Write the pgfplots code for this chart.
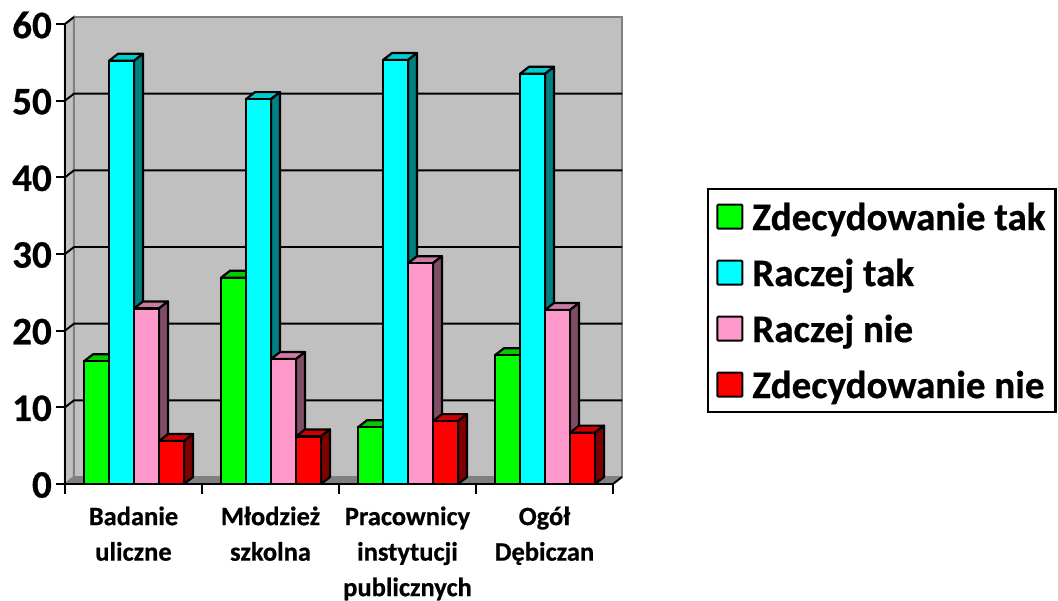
\documentclass[border=0pt]{standalone}
\usepackage{pgfplots}
\pgfplotsset{compat=1.18}
\usepackage{fontspec}
\setmainfont{Carlito}[BoldFeatures={FakeBold=0.6}]

\definecolor{gA}{HTML}{00FF00}\definecolor{gAt}{HTML}{00CC00}\definecolor{gAs}{HTML}{008000}
\definecolor{cA}{HTML}{00FFFF}\definecolor{cAt}{HTML}{00CCCC}\definecolor{cAs}{HTML}{008080}
\definecolor{pA}{HTML}{FF99CC}\definecolor{pAt}{HTML}{CC7AA3}\definecolor{pAs}{HTML}{804D66}
\definecolor{rA}{HTML}{FF0000}\definecolor{rAt}{HTML}{CC0000}\definecolor{rAs}{HTML}{800000}
\definecolor{wall}{HTML}{C0C0C0}\definecolor{edge}{HTML}{808080}

% depth of the fake 3D look, in axis units (9px and 7px)
\def\dx{0.0657}
\def\dy{0.913}
\def\barw{0.1825}

% top and side face of one bar: centre, value, top colour, side colour
\newcommand{\faces}[4]{%
  \pgfmathsetmacro\xa{#1-\barw/2}\pgfmathsetmacro\xb{#1+\barw/2}%
  \pgfmathsetmacro\xc{\xb+\dx}\pgfmathsetmacro\xd{\xa+\dx}%
  \pgfmathsetmacro\yt{#2+\dy}%
  \edef\tmp{\noexpand\addplot[forget plot, fill=#3, draw=black, line width=2.2pt, line join=round]
    coordinates {(\xa,#2) (\xb,#2) (\xc,\yt) (\xd,\yt)} --cycle;
    \noexpand\addplot[forget plot, fill=#4, draw=black, line width=2.2pt, line join=round]
    coordinates {(\xb,0) (\xc,\dy) (\xc,\yt) (\xb,#2)} --cycle;}\tmp}

% shift in pt, colours, then the four values
\newcommand{\series}[8]{%
  \pgfmathsetmacro\sh{#1*\barw/25}%
  \pgfmathsetmacro\ca{0.5+\sh}\pgfmathsetmacro\cb{1.5+\sh}\pgfmathsetmacro\cc{2.5+\sh}\pgfmathsetmacro\cd{3.5+\sh}%
  \faces{\ca}{#5}{#3}{#4}\faces{\cb}{#6}{#3}{#4}\faces{\cc}{#7}{#3}{#4}\faces{\cd}{#8}{#3}{#4}%
  \addplot[ybar, bar width=25pt, bar shift=#1pt, fill=#2, draw=black, line width=2.2pt]
    coordinates {(0.5,#5) (1.5,#6) (2.5,#7) (3.5,#8)};}

\newcommand{\gridl}[1]{%
  \pgfmathsetmacro\yy{#1+\dy}\pgfmathsetmacro\xe{4+\dx}%
  \edef\tmp{\noexpand\addplot[forget plot, black, line width=1.9pt]
    coordinates {(0,#1) (\dx,\yy) (\xe,\yy)};}\tmp}

\begin{document}
\begin{tikzpicture}[x=1pt,y=1pt]
\path[use as bounding box] (-65,-117) rectangle (993,484);
\begin{axis}[
  at={(0,0)}, anchor=origin,
  scale only axis, width=548pt, height=460pt,
  xmin=0, xmax=4, ymin=0, ymax=60,
  clip=false, axis on top,
  axis x line*=bottom, axis y line*=left,
  axis line style={-, line width=2.2pt},
  xtick={0.5,1.5,2.5,3.5},
  xticklabels={{Badanie\\uliczne},{Młodzież\\szkolna},{Pracownicy\\instytucji\\publicznych},{Ogół\\Dębiczan}},
  minor xtick={0,1,2,3,4},
  ytick={0,10,...,60},
  tick align=outside,
  major tick length=9pt,
  major x tick style={draw=none},
  minor x tick style={draw=black, line width=1.9pt},
  minor tick length=10pt,
  y tick style={black, line width=1.9pt},
  tick pos=left,
  /pgf/number format/assume math mode=true,
  yticklabel style={font=\fontsize{39}{39}\selectfont\bfseries, inner sep=0pt, xshift=-4pt, yshift=-1pt},
  xticklabel style={font=\fontsize{26.5}{35.5}\selectfont\bfseries, align=center, yshift=-10pt},
  legend cell align=left,
  legend style={at={(axis description cs:1.172,0.6435)}, anchor=north west,
    draw=black, line width=2.2pt, fill=white,
    font=\fontsize{39}{39}\selectfont\bfseries, inner xsep=8pt, inner ysep=4pt, row sep=9pt,
    nodes={inner sep=2pt, text depth=8pt, text height=35pt}},
  legend image code/.code={\draw[#1, line width=2pt, rounded corners=1pt] (0pt,-12pt) rectangle (25pt,12pt); \path[draw=none, fill=none] (0pt,0pt) (33pt,0pt);},
]
\addplot[forget plot, fill=wall, draw=edge, line width=2pt] coordinates {(\dx,\dy) (4.0657,\dy) (4.0657,60.913) (\dx,60.913)} --cycle;
\addplot[forget plot, fill=wall, draw=edge, line width=2pt] coordinates {(0,0) (\dx,\dy) (\dx,60.913) (0,60)} --cycle;
\addplot[forget plot, fill=edge, draw=edge, line width=0.5pt] coordinates {(0,0) (4,0) (4.0657,\dy) (\dx,\dy)} --cycle;
\gridl{10}\gridl{20}\gridl{30}\gridl{40}\gridl{50}
\addplot[forget plot, black, line width=1.9pt] coordinates {(0,60) (\dx,60.913)};
\addplot[forget plot, black, line width=1.9pt] coordinates {(4,0) (4.0657,\dy)};

\series{-37}{gA}{gAt}{gAs}{16}{26.9}{7.4}{16.8}
\series{-12}{cA}{cAt}{cAs}{55.2}{50.2}{55.3}{53.5}
\series{13}{pA}{pAt}{pAs}{22.9}{16.3}{28.8}{22.7}
\series{38}{rA}{rAt}{rAs}{5.6}{6.2}{8.2}{6.7}
\legend{Zdecydowanie tak,Raczej tak,Raczej nie,Zdecydowanie nie}
\end{axis}
\end{tikzpicture}
\end{document}
